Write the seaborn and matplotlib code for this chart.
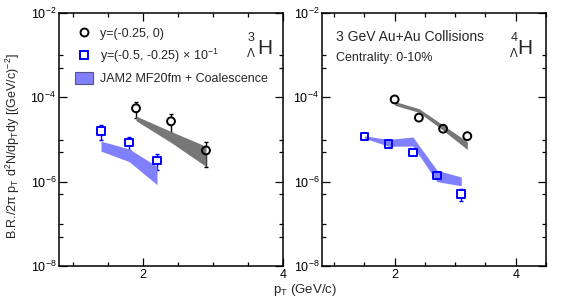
import numpy as np
import pandas as pd
import matplotlib
matplotlib.use("Agg")
import matplotlib.pyplot as plt
import seaborn as sns
from matplotlib.ticker import FixedLocator, FuncFormatter, NullFormatter
from matplotlib.lines import Line2D
from matplotlib.patches import Patch

# ---------------- data ----------------
# 3-Lambda-H panel
h3_circ_x = [1.9, 2.4, 2.9]
h3_circ_y = [5.5e-5, 2.7e-5, 5.5e-6]
h3_circ_err = [2.2e-5, 1.3e-5, 3.3e-6]
h3_sq_x = [1.4, 1.8, 2.2]
h3_sq_y = [1.6e-5, 8.5e-6, 3.2e-6]
h3_sq_err = [6.0e-6, 3.0e-6, 1.3e-6]
h3_gray_x = [1.9, 2.4, 2.9]
h3_gray_lo = [2.8e-5, 8.5e-6, 2.3e-6]
h3_gray_hi = [3.6e-5, 1.55e-5, 6.9e-6]
h3_blue_x = [1.4, 1.8, 2.2]
h3_blue_lo = [5.3e-6, 3.0e-6, 8.5e-7]
h3_blue_hi = [9.1e-6, 6.0e-6, 2.3e-6]

# 4-Lambda-H panel
h4_circ_x = [2.0, 2.4, 2.8, 3.2]
h4_circ_y = [8.9e-5, 3.3e-5, 1.8e-5, 1.2e-5]
h4_circ_err = [4.0e-6, 2.0e-6, 1.2e-6, 1.0e-6]
h4_sq_x = [1.5, 1.9, 2.3, 2.7, 3.1]
h4_sq_y = [1.17e-5, 7.9e-6, 4.9e-6, 1.4e-6, 5.1e-7]
h4_sq_err = [5.0e-7, 4.0e-7, 3.0e-7, 2.0e-7, 1.7e-7]
h4_gray_x = [2.0, 2.4, 2.8, 3.2]
h4_gray_lo = [6.5e-5, 4.4e-5, 1.65e-5, 5.8e-6]
h4_gray_hi = [8.0e-5, 5.4e-5, 2.2e-5, 8.9e-6]
h4_blue_x = [1.5, 1.9, 2.3, 2.7, 3.1]
h4_blue_lo = [1.08e-5, 6.9e-6, 7.0e-6, 1.0e-6, 8.0e-7]
h4_blue_hi = [1.22e-5, 1.0e-5, 1.15e-5, 1.86e-6, 1.29e-6]

legend_labels = ["y=(-0.25, 0)", r"y=(-0.5, -0.25) $\times$ 10$^{-1}$",
                 "JAM2 MF20fm + Coalescence"]
y_major = [1e-8, 1e-6, 1e-4, 1e-2]
y_minor = [5e-8, 1e-7, 5e-7, 1e-5, 5e-6, 1e-3, 5e-4]

# ---------------- style ----------------
sns.set_style("ticks")
plt.rcParams["font.family"] = ["Liberation Sans", "DejaVu Sans"]
plt.rcParams["mathtext.fontset"] = "custom"
plt.rcParams["mathtext.rm"] = "Liberation Sans"
plt.rcParams["mathtext.it"] = "Liberation Sans:italic"
plt.rcParams["mathtext.sf"] = "Liberation Sans"
plt.rcParams["mathtext.default"] = "regular"

W, H = 565, 298
fig = plt.figure(figsize=(W / 100, H / 100), dpi=100)
BLUE = "#0000ff"
GRAY_BAND = "#777777"
BLUE_BAND = "#8080ff"


def px_ax(l, t, r, b):
    return [l / W, 1 - b / H, (r - l) / W, (b - t) / H]


ax1 = fig.add_axes(px_ax(59, 13, 283, 266))
ax2 = fig.add_axes(px_ax(322, 13, 546, 266))


def draw_panel(ax, cx, cy, ce, sx, sy, se, gx, glo, ghi, bx, blo, bhi, xmax):
    # error bars (below markers)
    ax.errorbar(cx, cy, yerr=ce, fmt="none", ecolor="black", elinewidth=1.0,
                capsize=1.5, capthick=1.0, zorder=1)
    ax.errorbar(sx, sy, yerr=se, fmt="none", ecolor=BLUE, elinewidth=1.0,
                capsize=1.5, capthick=1.0, zorder=1)
    # white marker interiors hide error bar lines
    sns.scatterplot(x=cx, y=cy, ax=ax, marker="o", s=32, color="white",
                    edgecolor="none", linewidth=0, zorder=2, legend=False)
    sns.scatterplot(x=sx, y=sy, ax=ax, marker="s", s=30, color="white",
                    edgecolor="none", linewidth=0, zorder=2, legend=False)
    # model bands
    ax.fill_between(gx, glo, ghi, color=GRAY_BAND, lw=0, zorder=3)
    ax.fill_between(bx, blo, bhi, color=BLUE_BAND, lw=0, zorder=3)
    # hollow markers
    sns.scatterplot(x=cx, y=cy, ax=ax, marker="o", s=32, facecolor="none",
                    edgecolor="black", linewidth=1.4, zorder=4, legend=False)
    sns.scatterplot(x=sx, y=sy, ax=ax, marker="s", s=30, facecolor="none",
                    edgecolor=BLUE, linewidth=1.4, zorder=4, legend=False)

    ax.set_yscale("log")
    ax.set_ylim(1e-8, 1e-2)
    ax.set_xlim(0.8, xmax)
    ax.yaxis.set_major_locator(FixedLocator(y_major))
    ax.yaxis.set_minor_locator(FixedLocator(y_minor))
    ax.yaxis.set_major_formatter(FuncFormatter(
        lambda v, p: r"10$^{%d}$" % int(round(np.log10(v)))))
    ax.yaxis.set_minor_formatter(NullFormatter())
    ax.xaxis.set_major_locator(FixedLocator([2, 4]))
    ax.xaxis.set_minor_locator(FixedLocator(
        [v for v in np.arange(1.0, xmax + 0.01, 0.5) if v not in (2, 4)]))
    ax.xaxis.set_major_formatter(FuncFormatter(lambda v, p: "%d" % v))
    ax.tick_params(which="both", direction="in", top=True, right=True,
                   width=0.9, colors="black", labelsize=9, pad=2)
    ax.tick_params(which="major", length=6)
    ax.tick_params(which="minor", length=3)
    for s in ax.spines.values():
        s.set_linewidth(1.1)
        s.set_color("black")
    ax.set_xlabel("")
    ax.set_ylabel("")


draw_panel(ax1, h3_circ_x, h3_circ_y, h3_circ_err, h3_sq_x, h3_sq_y, h3_sq_err,
           h3_gray_x, h3_gray_lo, h3_gray_hi, h3_blue_x, h3_blue_lo, h3_blue_hi, 4.0)
draw_panel(ax2, h4_circ_x, h4_circ_y, h4_circ_err, h4_sq_x, h4_sq_y, h4_sq_err,
           h4_gray_x, h4_gray_lo, h4_gray_hi, h4_blue_x, h4_blue_lo, h4_blue_hi, 4.5)


def ftxt(px, py, s, **kw):
    fig.text(px / W, 1 - py / H, s, **kw)


# legend
handles = [
    Line2D([], [], marker="o", ls="none", mfc="none", mec="black", mew=1.4, ms=5.7),
    Line2D([], [], marker="s", ls="none", mfc="none", mec=BLUE, mew=1.4, ms=5.5),
    Patch(facecolor=BLUE_BAND, edgecolor="#55558a", lw=0.8),
]
ax1.legend(handles, legend_labels, loc="upper left",
           bbox_to_anchor=(75 / W, 1 - 27 / H), bbox_transform=fig.transFigure,
           frameon=False, borderpad=0, borderaxespad=0, fontsize=9,
           handlelength=1.4, handleheight=1.1, handletextpad=0.6,
           labelspacing=0.55)

# nucleus labels
ftxt(265, 48, "H", fontsize=15, ha="center", va="center")
ftxt(251, 38, "3", fontsize=9, ha="center", va="center")
ftxt(251, 54, "Λ", fontsize=8.5, ha="center", va="center")
ftxt(525, 48, "H", fontsize=15, ha="center", va="center")
ftxt(514, 38, "4", fontsize=9, ha="center", va="center")
ftxt(514, 54, "Λ", fontsize=8.5, ha="center", va="center")

# collision info
ftxt(336, 37, "3 GeV Au+Au Collisions", fontsize=10, ha="left", va="center")
ftxt(336, 58, "Centrality: 0-10%", fontsize=9, ha="left", va="center")

# axis titles
ftxt(13, 146, r"B.R./2$\pi$ p$_{T}$ d$^{2}$N/dp$_{T}$dy [(GeV/c)$^{-2}$]",
     fontsize=9, rotation=90, ha="center", va="center")
ftxt(305, 290, r"p$_{T}$ (GeV/c)", fontsize=9.5, ha="center", va="center")

fig.savefig("out.png", dpi=100)
